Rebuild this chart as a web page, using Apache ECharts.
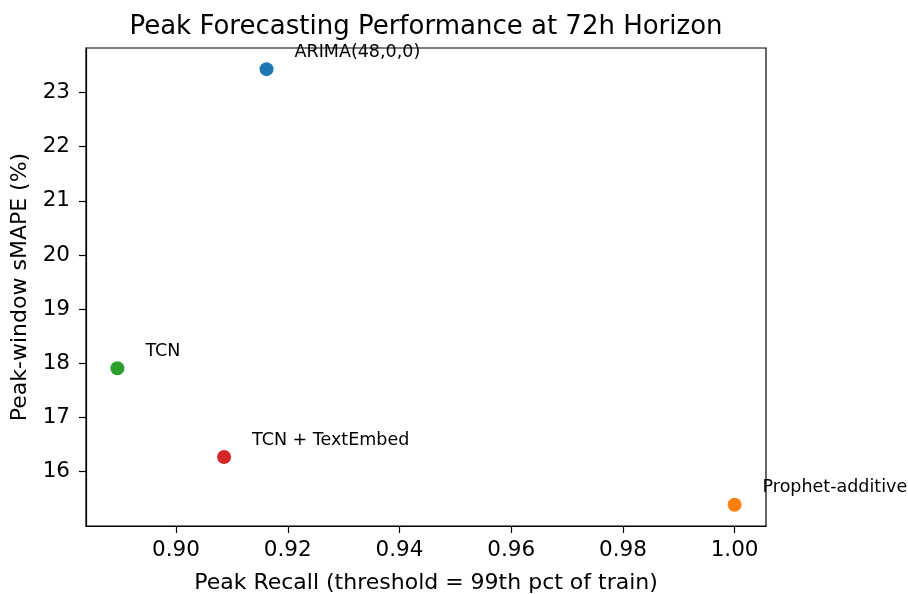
<!DOCTYPE html>
<html>
<head>
<meta charset="utf-8">
<script src="https://cdn.jsdelivr.net/npm/echarts@6/dist/echarts.min.js"></script>
<style>
  html, body { margin: 0; padding: 0; background: #fff; }
  #chart { width: 908px; height: 594px; }
</style>
</head>
<body>
<div id="chart"></div>
<script>
// models and their scores
const models = ["ARIMA(48,0,0)", "Prophet-additive", "TCN", "TCN + TextEmbed"];
const peakRecall = [0.9162, 1.0, 0.8895, 0.9086];
const peakSmape = [23.43, 15.39, 17.91, 16.27];
const pointColors = ["#1f77b4", "#ff7f0e", "#2ca02c", "#d62728"];

const xTicks = [0.90, 0.92, 0.94, 0.96, 0.98, 1.00];
const yTicks = [16, 17, 18, 19, 20, 21, 22, 23];

const FONT = "DejaVu Sans";

const chart = echarts.init(document.getElementById("chart"));

const points = models.map(function (name, i) {
  return {
    name: name,
    value: [peakRecall[i], peakSmape[i]],
    itemStyle: { color: pointColors[i], opacity: 1 }
  };
});

const option = {
  animation: false,
  textStyle: { fontFamily: FONT, color: "#000" },
  title: {
    text: "Peak Forecasting Performance at 72h Horizon",
    left: 421,
    top: 9,
    textAlign: "center",
    textStyle: { fontFamily: FONT, fontSize: 26, fontWeight: "normal", color: "#000" }
  },
  grid: {
    left: 86,
    right: 142,
    top: 48,
    bottom: 68,
    outerBoundsMode: "none",
    containLabel: false,
    show: true,
    borderColor: "#000",
    borderWidth: 1.2,
    backgroundColor: "#fff"
  },
  xAxis: {
    type: "value",
    min: 0.88388,
    max: 1.00562,
    name: "Peak Recall (threshold = 99th pct of train)",
    nameLocation: "middle",
    nameGap: 46,
    nameTextStyle: { fontFamily: FONT, fontSize: 22, color: "#000" },
    splitLine: { show: false },
    axisLine: { show: true, onZero: false, lineStyle: { color: "#000", width: 1.2 } },
    axisTick: { show: true, length: 7, customValues: xTicks, lineStyle: { color: "#000", width: 1.2 } },
    axisLabel: {
      customValues: xTicks,
      fontFamily: FONT, fontSize: 21.5, color: "#000", margin: 13,
      formatter: function (v) { return v.toFixed(2); }
    }
  },
  yAxis: {
    type: "value",
    min: 14.997,
    max: 23.82,
    name: "Peak-window sMAPE (%)",
    nameLocation: "middle",
    nameGap: 49,
    nameRotate: 90,
    nameTextStyle: { fontFamily: FONT, fontSize: 22, color: "#000" },
    splitLine: { show: false },
    axisLine: { show: true, onZero: false, lineStyle: { color: "#000", width: 1.2 } },
    axisTick: { show: true, length: 7, customValues: yTicks, lineStyle: { color: "#000", width: 1.2 } },
    axisLabel: {
      customValues: yTicks,
      fontFamily: FONT, fontSize: 21.5, color: "#000", margin: 16,
      formatter: function (v) { return String(v); }
    }
  },
  series: [{
    type: "scatter",
    symbolSize: 14,
    data: points,
    emphasis: { disabled: true },
    label: {
      show: true,
      position: "right",
      distance: 0,
      offset: [21, -17],
      formatter: "{b}",
      fontFamily: FONT,
      fontSize: 17.5,
      color: "#000"
    }
  }]
};

chart.setOption(option);
</script>
</body>
</html>
